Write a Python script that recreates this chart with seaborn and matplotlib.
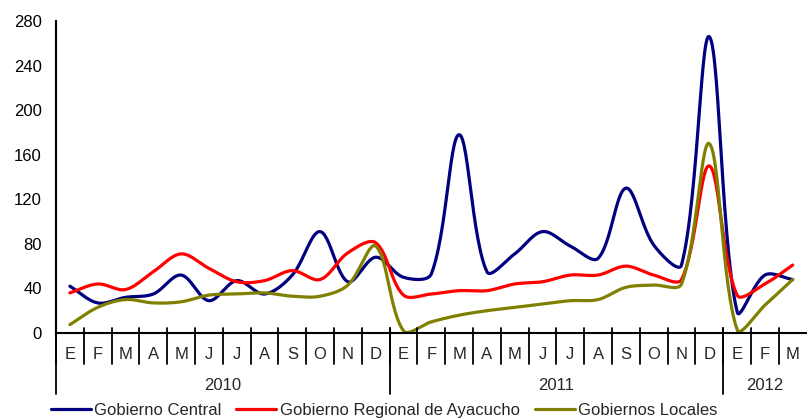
import numpy as np
import pandas as pd
import matplotlib
matplotlib.use("Agg")
import matplotlib.pyplot as plt
import seaborn as sns

# data
months = ["E", "F", "M", "A", "M", "J", "J", "A", "S", "O", "N", "D",
          "E", "F", "M", "A", "M", "J", "J", "A", "S", "O", "N", "D",
          "E", "F", "M"]
years = ["2010", "2011", "2012"]
year_start = [0, 12, 24]
year_len = [12, 12, 3]

gob_central = [42, 27, 32, 35, 52, 29, 47, 35, 52, 91, 46, 68,
               50, 53, 178, 55, 71, 91, 78, 67, 130, 79, 61, 266,
               19, 52, 48]
gob_regional = [36, 44, 39, 55, 71, 58, 46, 47, 56, 48, 72, 81,
                34, 35, 38, 38, 44, 46, 52, 52, 60, 52, 48, 150,
                34, 44, 61]
gob_locales = [7.5, 23, 30, 27, 28, 34, 35, 36, 33, 33, 43, 78,
               2, 10, 16, 20, 23, 26, 29, 30, 41, 43, 44, 170,
               3, 25, 48]

series = {
    "Gobierno Central": (gob_central, "#000080"),
    "Gobierno Regional de Ayacucho": (gob_regional, "#FF0000"),
    "Gobiernos Locales": (gob_locales, "#808000"),
}


def smooth(xs, ys, steps=30, kx=27.8, ky=1.114):
    # spreadsheet-style smoothed line: bezier with chord-length scaled tangents
    p = np.column_stack([xs, ys]).astype(float)
    p = np.vstack([p[0], p, p[-1]])
    scale = np.array([kx, ky])

    def dist(a, b):
        return np.hypot(*((b - a) * scale)) + 1e-9

    out = []
    t = np.linspace(0, 1, steps)[:, None]
    for i in range(1, len(p) - 2):
        p0, p1, p2, p3 = p[i - 1], p[i], p[i + 1], p[i + 2]
        d01, d12, d23 = dist(p0, p1), dist(p1, p2), dist(p2, p3)
        c1 = p1 + (p2 - p0) / 3 * d12 / (d01 + d12)
        c2 = p2 - (p3 - p1) / 3 * d12 / (d12 + d23)
        seg = ((1 - t) ** 3) * p1 + 3 * ((1 - t) ** 2) * t * c1 + 3 * (1 - t) * t ** 2 * c2 + t ** 3 * p2
        out.append(seg if i == 1 else seg[1:])
    out = np.vstack(out)
    return out[:, 0], out[:, 1]


sns.set_style("white")
plt.rcParams["font.family"] = ["Liberation Sans", "DejaVu Sans"]

fig = plt.figure(figsize=(8.07, 4.19), dpi=100)
ax = fig.add_axes([56 / 807, 86 / 419, 750.6 / 807, 312 / 419])

x = np.arange(len(months))
for name, (vals, col) in series.items():
    sx, sy = smooth(x, vals)
    df = pd.DataFrame({"x": sx, "y": sy})
    sns.lineplot(data=df, x="x", y="y", ax=ax, color=col, lw=2.3,
                 sort=False, estimator=None, label=name, clip_on=False)

ax.set_xlim(-0.5, len(months) - 0.5)
ax.set_ylim(0, 280)
ax.set_yticks(range(0, 281, 40))
ax.set_xticks([])
ax.set_xlabel("")
ax.set_ylabel("")
ax.tick_params(axis="y", direction="inout", length=6.5, width=1.5,
               labelsize=12, pad=7, colors="black")

for s in ["top", "right"]:
    ax.spines[s].set_visible(False)
for s in ["left", "bottom"]:
    ax.spines[s].set_linewidth(1.5)
    ax.spines[s].set_color("black")

trans = ax.get_xaxis_transform()
# month separators and labels
for i in range(len(months)):
    ax.plot([i - 0.5, i - 0.5], [0.016, -0.099], transform=trans,
            color="black", lw=1.3, clip_on=False)
    ax.text(i, -0.0705, months[i], transform=trans, ha="center",
            va="center", fontsize=12)
# year separators and labels
for yr, st, ln in zip(years, year_start, year_len):
    ax.plot([st - 0.5, st - 0.5], [0.016, -0.196], transform=trans,
            color="black", lw=1.3, clip_on=False)
    ax.text(st + (ln - 1) / 2, -0.167, yr, transform=trans, ha="center",
            va="center", fontsize=12)

handles, labels = ax.get_legend_handles_labels()
ax.legend_.remove()
fig.legend(handles, labels, loc="center", bbox_to_anchor=(384 / 807, 9 / 419),
           ncol=3, frameon=False, fontsize=12, handlelength=2.4,
           handletextpad=0.2, columnspacing=0.9, borderaxespad=0)

fig.savefig("out.png", dpi=100)
